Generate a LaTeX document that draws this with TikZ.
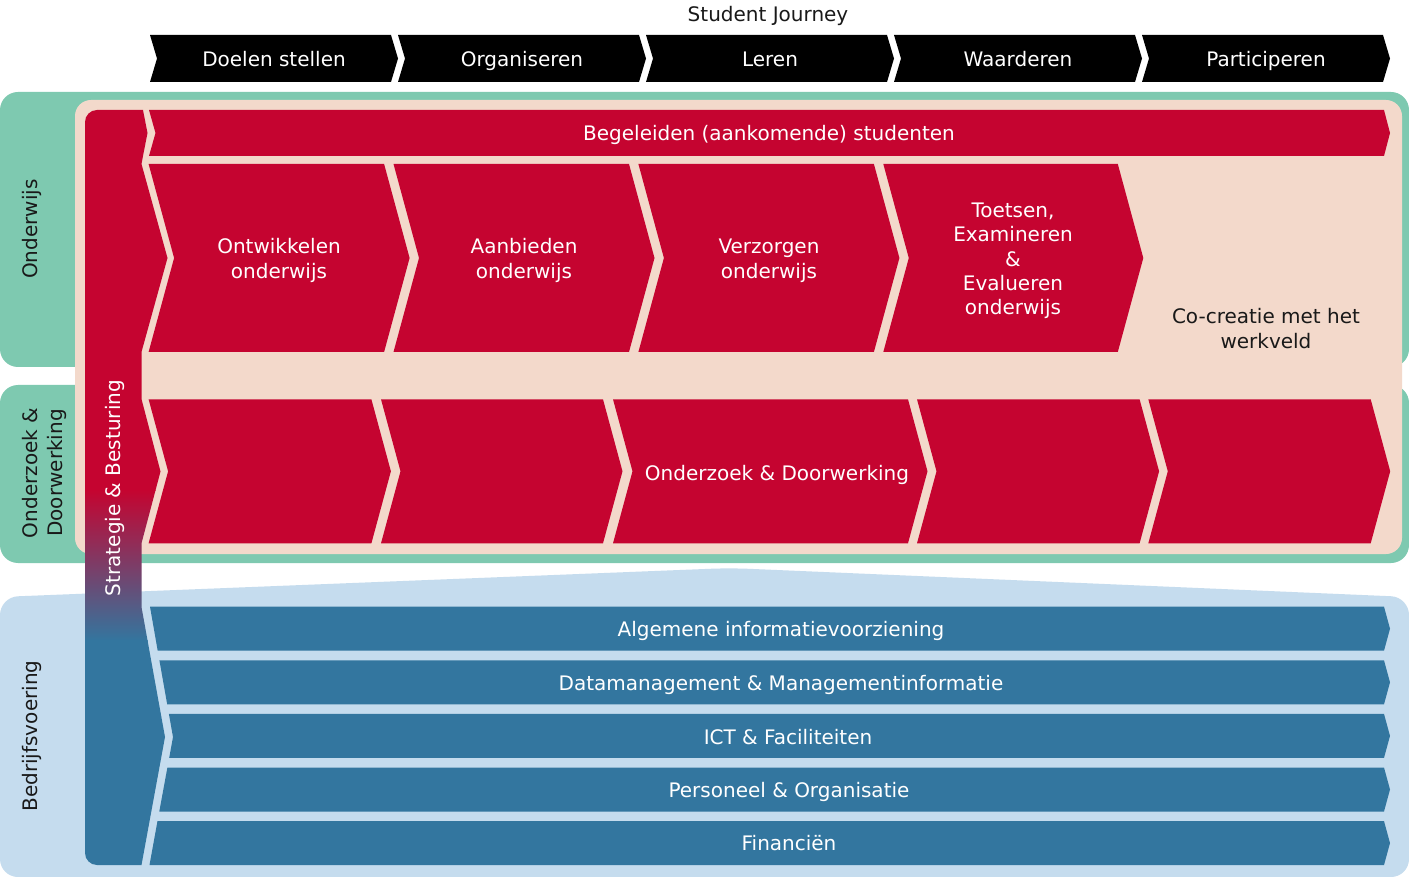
\documentclass[tikz,border=0pt]{standalone}
\usepackage{fontspec}
\setmainfont{DejaVu Sans}
\definecolor{cred}{RGB}{197,4,48}
\definecolor{cbeige}{RGB}{243,217,203}
\definecolor{cgreen}{RGB}{126,201,176}
\definecolor{clight}{RGB}{197,220,238}
\definecolor{cblue}{RGB}{51,118,159}
\definecolor{ctext}{RGB}{25,25,25}
\newcommand{\mychev}[6]{\fill[#1] (#2,#3) -- ({#2+#5},#3) -- ({#2+#5+#6},{(#3+#4)/2}) -- ({#2+#5},#4) -- (#2,#4) -- ({#2+#6},{(#3+#4)/2}) -- cycle;}
\begin{document}
\begin{tikzpicture}[x=1pt,y=-1pt,
  every node/.style={font=\fontsize{20}{25}\selectfont, inner sep=0pt, align=center},
  wl/.style={text=white},
  bl/.style={text=ctext},
  bs/.style={anchor=base}]
\fill[white] (0,0) rectangle (1409,877);
\useasboundingbox (0,0) rectangle (1409,877);
% backgrounds
\fill[cgreen, rounded corners=18] (0,92) rectangle (1409,367);
\fill[cgreen, rounded corners=18] (0,385) rectangle (1409,563);
\fill[cbeige, rounded corners=16] (75,100) rectangle (1402,554);
\fill[clight, rounded corners=18] (0,597) -- (730,568) -- (1409,597) -- (1409,877) -- (0,877) -- cycle;
% pillar
\begin{scope}
\clip (80,100) -- (143,100) -- (143,110) -- (147.5,133) -- (143,156) -- (141.5,164) -- (167.5,258) -- (141.5,352) -- (141.5,399) -- (160.5,471.5) -- (141.5,543.3) -- (141.5,607) -- (165,737) -- (141.5,865) -- (141.5,870) -- (80,870) -- cycle;
\clip[rounded corners=12] (85,110) rectangle (200,865);
\fill[cred] (80,100) rectangle (210,491);
\shade[top color=cred, bottom color=cblue] (80,490) rectangle (210,641);
\fill[cblue] (80,640) rectangle (210,870);
\end{scope}
% header chevrons
\mychev{black}{150}{35}{82}{241}{7}
\mychev{black}{398}{35}{82}{241}{7}
\mychev{black}{646}{35}{82}{241}{7}
\mychev{black}{894}{35}{82}{241}{7}
\mychev{black}{1142}{35}{82}{241}{7}
% row 1
\fill[cred] (149,110) -- (1384,110) -- (1390,133) -- (1384,156) -- (149,156) -- (155.5,133) -- cycle;
% row 2
\mychev{cred}{148.6}{164}{352}{235.5}{25.5}
\mychev{cred}{393.5}{164}{352}{235.5}{25.5}
\mychev{cred}{638.4}{164}{352}{235.5}{25.5}
\mychev{cred}{883.3}{164}{352}{234.5}{25.5}
% row 3
\mychev{cred}{148.6}{399.3}{543.3}{222.8}{19.5}
\mychev{cred}{381}{399.3}{543.3}{222}{19.5}
\mychev{cred}{613}{399.3}{543.3}{295}{19.5}
\mychev{cred}{917}{399.3}{543.3}{222.6}{19.5}
\mychev{cred}{1148.3}{399.3}{543.3}{222.4}{19.5}
% blue rows
\fill[cblue] (150,606.7) -- (1384,606.7) -- (1390,628.7) -- (1384,650.7) -- (157.7,650.7) -- cycle;
\fill[cblue] (159.4,660.3) -- (1384,660.3) -- (1390,682.3) -- (1384,704.3) -- (167.2,704.3) -- cycle;
\fill[cblue] (168.9,713.9) -- (1384,713.9) -- (1390,735.9) -- (1384,757.9) -- (169.2,757.9) -- (173,737) -- cycle;
\fill[cblue] (167.4,767.5) -- (1384,767.5) -- (1390,789.5) -- (1384,811.5) -- (159.3,811.5) -- cycle;
\fill[cblue] (157.5,821.1) -- (1384,821.1) -- (1390,843.1) -- (1384,865.1) -- (149.5,865.1) -- cycle;
% texts
\node[bl,bs] (title) at (768,21.5) {Student Journey};
\node[wl,bs] (h1) at (274,66.5) {Doelen stellen};
\node[wl,bs] (h2) at (522,66.5) {Organiseren};
\node[wl,bs] (h3) at (770,66.5) {Leren};
\node[wl,bs] (h4) at (1018,66.5) {Waarderen};
\node[wl,bs] (h5) at (1266,66.5) {Participeren};
\node[wl,bs] (beg) at (769,140.5) {Begeleiden (aankomende) studenten};
\node[wl] (r21) at (279,260.5) {Ontwikkelen\\onderwijs};
\node[wl] (r22) at (524,260.5) {Aanbieden\\onderwijs};
\node[wl] (r23) at (769,260.5) {Verzorgen\\onderwijs};
\node[wl, font=\fontsize{20}{24.3}\selectfont] (r24) at (1013,261) {Toetsen,\\Examineren\\\&\\Evalueren\\onderwijs};
\node[bl] (cocr) at (1266,328.5) {Co-creatie met het\\werkveld};
\node[wl,bs] (ond) at (777,480.5) {Onderzoek \& Doorwerking};
\node[wl,bs] (b1) at (781,636.5) {Algemene informatievoorziening};
\node[wl,bs] (b2) at (781,690.5) {Datamanagement \& Managementinformatie};
\node[wl,bs] (b3) at (788,744.5) {ICT \& Faciliteiten};
\node[wl,bs] (b4) at (789,797.5) {Personeel \& Organisatie};
\node[wl,bs] (b5) at (789,850.5) {Financiën};
\node[bl, rotate=90] (lo) at (32,229) {Onderwijs};
\node[bl, rotate=90] (lz) at (44,473) {Onderzoek \&\\Doorwerking};
\node[bl, rotate=90] (lb) at (32,736) {Bedrijfsvoering};
\node[wl, rotate=90] (ls) at (115,488) {Strategie \& Besturing};
\end{tikzpicture}
\end{document}
